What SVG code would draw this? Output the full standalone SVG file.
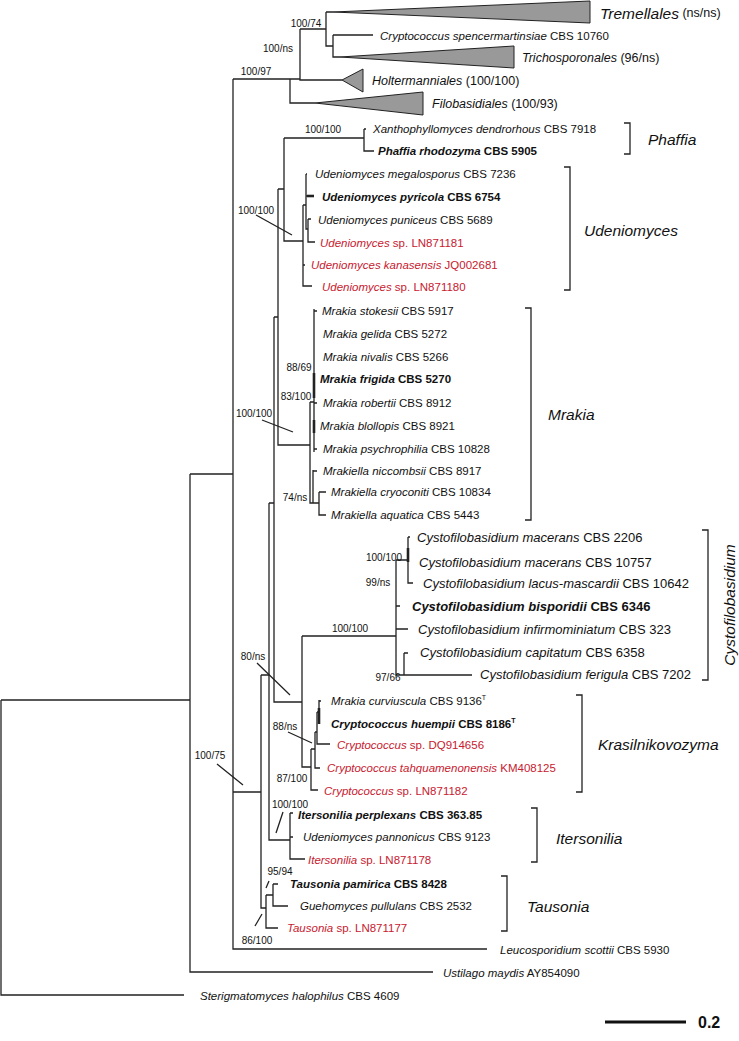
<svg xmlns="http://www.w3.org/2000/svg" width="739" height="1041" viewBox="0 0 739 1041">
<style>
text{font-family:"Liberation Sans",Arial,sans-serif;dominant-baseline:central;fill:#111}
.l{font-size:11.5px}
.c{font-size:13px}
.s{font-size:10px}
.g{font-size:12.5px}
.k{font-size:15.5px;font-style:italic}
.i{font-style:italic}
.b{font-weight:bold}
.r{fill:#c8202f}
.r tspan{fill:#c8202f}
.ln{fill:none;stroke:#222;stroke-width:1.3}
.th{fill:none;stroke:#222;stroke-width:2.6}
.tri{fill:#999;stroke:#222;stroke-width:1}
.br{fill:none;stroke:#222;stroke-width:1.3}
</style>
<rect width="739" height="1041" fill="#fff"/>
<g id="connectors">
<path class="ln" d="M1,700V995H184M1,700H190M190,474V972H433M190,474H233M233,79V949H487M233,79H290M233,792H261"/>
<path class="ln" d="M290,79V103H315M290,79H300M300,29V80H342M300,29H326M326,12V46H333M326,12H333M333,35V57H340M333,35H373"/>
<path class="ln" d="M261,675V908H266M261,675H269M269,503V840H290M269,503H274M274,317V702H302M274,317H278M278,189V445H310M278,189H284M284,138V241H303M284,138H364M364,129V151H374M364,129H366"/>
<path class="ln" d="M303,205V286H312M303,205H306M303,265H305M306,174V229H308M306,174H307M306,196H314M308,219V242H315M308,219H311"/>
<path class="th" d="M307,196H314"/>
<path class="ln" d="M310,402V503H313M310,402H314M314,309V452M314,311H317M314,403H317M314,449H317M313,470V503H319M313,471H317M319,492V515H326M319,492H326"/>
<path class="th" d="M314,373V398M314,420V433"/>
<path class="ln" d="M302,636V767H311M302,636H396M396,560V675H404M396,560H408M408,537V583H413M408,537H410M396,606H400M396,629H408M404,653V675H472M404,653H408"/>
<path class="th" d="M408,548V562"/>
<path class="ln" d="M311,749V790H318M311,749H315M315,732V768H320M315,732H317M317,712V744H330M317,712H319M319,700V724M319,701H321"/>
<path class="th" d="M319,708V724"/>
<path class="ln" d="M290,813V859H305M290,813H293M290,837H293M266,895V928H278M266,895H273M273,884V906H288M273,884H278"/>
<path class="ln" d="M256,215L292,235M262,420L293,432M257,663L290,695M288,732L312,743M217,764L243,785M283,812L276,833M266,888L269,881M255,926L262,914"/>
</g>
<g id="collapsed">
<polygon class="tri" points="333,12 590,1 590,23"/>
<polygon class="tri" points="340,57 514,46 514,68"/>
<polygon class="tri" points="342,80 363,69 363,92"/>
<polygon class="tri" points="315,103 423,92 423,115"/>
</g>
<g id="brackets">
<path class="br" d="M624,123H630V154H624"/>
<path class="br" d="M564,167H570V290H564"/>
<path class="br" d="M525,308H531V520H525"/>
<path class="br" d="M702,530H708V680H702"/>
<path class="br" d="M576,695H582V792H576"/>
<path class="br" d="M531,808H537V862H531"/>
<path class="br" d="M501,876H507V931H501"/>
</g>
<g id="scale">
<path d="M605,1022H686" stroke="#111" stroke-width="3"/>
<text x="698" y="1022" class="b" font-size="16">0.2</text>
</g>
<g id="supports" class="s">
<text class="s" x="306" y="23" text-anchor="middle">100/74</text>
<text class="s" x="278" y="48" text-anchor="middle">100/ns</text>
<text class="s" x="256" y="71" text-anchor="middle">100/97</text>
<text class="s" x="323" y="129" text-anchor="middle">100/100</text>
<text class="s" x="256" y="210" text-anchor="middle">100/100</text>
<text class="s" x="299" y="367" text-anchor="middle">88/69</text>
<text class="s" x="296" y="396" text-anchor="middle">83/100</text>
<text class="s" x="254" y="413" text-anchor="middle">100/100</text>
<text class="s" x="295" y="497" text-anchor="middle">74/ns</text>
<text class="s" x="384" y="557" text-anchor="middle">100/100</text>
<text class="s" x="378" y="582" text-anchor="middle">99/ns</text>
<text class="s" x="350" y="628" text-anchor="middle">100/100</text>
<text class="s" x="388" y="677" text-anchor="middle">97/66</text>
<text class="s" x="253" y="656" text-anchor="middle">80/ns</text>
<text class="s" x="285" y="726" text-anchor="middle">88/ns</text>
<text class="s" x="210" y="755" text-anchor="middle">100/75</text>
<text class="s" x="292" y="778" text-anchor="middle">87/100</text>
<text class="s" x="290" y="804" text-anchor="middle">100/100</text>
<text class="s" x="280" y="871" text-anchor="middle">95/94</text>
<text class="s" x="257" y="940" text-anchor="middle">86/100</text>
</g>
<g id="n-tremellales"><text x="600" y="13"><tspan class="k">Tremellales</tspan><tspan class="g"> (ns/ns)</tspan></text></g>
<g id="n-spencermartinsiae"><text class="l" x="380" y="36"><tspan class="i">Cryptococcus spencermartinsiae</tspan> CBS 10760</text></g>
<g id="n-trichosporonales"><text class="g" x="522" y="58"><tspan class="i">Trichosporonales</tspan> (96/ns)</text></g>
<g id="n-holtermanniales"><text class="g" x="372" y="81"><tspan class="i">Holtermanniales</tspan> (100/100)</text></g>
<g id="n-filobasidiales"><text class="g" x="432" y="104"><tspan class="i">Filobasidiales</tspan> (100/93)</text></g>
<g id="n-xantho"><text class="l" x="373" y="129"><tspan class="i">Xanthophyllomyces dendrorhous</tspan> CBS 7918</text></g>
<g id="n-phaffia"><text class="l b" x="378" y="151"><tspan class="i">Phaffia rhodozyma</tspan> CBS 5905</text></g>
<g id="n-ude1"><text class="l" x="315" y="174"><tspan class="i">Udeniomyces megalosporus</tspan> CBS 7236</text></g>
<g id="n-ude2"><text class="l b" x="322" y="197"><tspan class="i">Udeniomyces pyricola</tspan> CBS 6754</text></g>
<g id="n-ude3"><text class="l" x="318" y="220"><tspan class="i">Udeniomyces puniceus</tspan> CBS 5689</text></g>
<g id="n-ude4"><text class="l r" x="320" y="243"><tspan class="i">Udeniomyces</tspan> sp. LN871181</text></g>
<g id="n-ude5"><text class="l r" x="311" y="265"><tspan class="i">Udeniomyces kanasensis</tspan> JQ002681</text></g>
<g id="n-ude6"><text class="l r" x="322" y="287"><tspan class="i">Udeniomyces</tspan> sp. LN871180</text></g>
<g id="n-mr1"><text class="l" x="322" y="311"><tspan class="i">Mrakia stokesii</tspan> CBS 5917</text></g>
<g id="n-mr2"><text class="l" x="323" y="334"><tspan class="i">Mrakia gelida</tspan> CBS 5272</text></g>
<g id="n-mr3"><text class="l" x="323" y="357"><tspan class="i">Mrakia nivalis</tspan> CBS 5266</text></g>
<g id="n-mr4"><text class="l b" x="320" y="379"><tspan class="i">Mrakia frigida</tspan> CBS 5270</text></g>
<g id="n-mr5"><text class="l" x="323" y="403"><tspan class="i">Mrakia robertii</tspan> CBS 8912</text></g>
<g id="n-mr6"><text class="l" x="320" y="426"><tspan class="i">Mrakia blollopis</tspan> CBS 8921</text></g>
<g id="n-mr7"><text class="l" x="323" y="449"><tspan class="i">Mrakia psychrophilia</tspan> CBS 10828</text></g>
<g id="n-mr8"><text class="l" x="323" y="471"><tspan class="i">Mrakiella niccombsii</tspan> CBS 8917</text></g>
<g id="n-mr9"><text class="l" x="331" y="492"><tspan class="i">Mrakiella cryoconiti</tspan> CBS 10834</text></g>
<g id="n-mr10"><text class="l" x="331" y="515"><tspan class="i">Mrakiella aquatica</tspan> CBS 5443</text></g>
<g id="n-cy1"><text class="c" x="417" y="537"><tspan class="i">Cystofilobasidium macerans</tspan> CBS 2206</text></g>
<g id="n-cy2"><text class="c" x="419" y="562"><tspan class="i">Cystofilobasidium macerans</tspan> CBS 10757</text></g>
<g id="n-cy3"><text class="c" x="423" y="583"><tspan class="i">Cystofilobasidium lacus-mascardii</tspan> CBS 10642</text></g>
<g id="n-cy4"><text class="c b" x="412" y="606"><tspan class="i">Cystofilobasidium bisporidii</tspan> CBS 6346</text></g>
<g id="n-cy5"><text class="c" x="418" y="629"><tspan class="i">Cystofilobasidium infirmominiatum</tspan> CBS 323</text></g>
<g id="n-cy6"><text class="c" x="420" y="652"><tspan class="i">Cystofilobasidium capitatum</tspan> CBS 6358</text></g>
<g id="n-cy7"><text class="c" x="480" y="674"><tspan class="i">Cystofilobasidium ferigula</tspan> CBS 7202</text></g>
<g id="n-kr1"><text class="l" x="331" y="701"><tspan class="i">Mrakia curviuscula</tspan> CBS 9136<tspan font-size="7" dy="-4">T</tspan></text></g>
<g id="n-kr2"><text class="l b" x="331" y="724"><tspan class="i">Cryptococcus huempii</tspan> CBS 8186<tspan font-size="7" dy="-4">T</tspan></text></g>
<g id="n-kr3"><text class="l r" x="337" y="745"><tspan class="i">Cryptococcus</tspan> sp. DQ914656</text></g>
<g id="n-kr4"><text class="l r" x="327" y="768"><tspan class="i">Cryptococcus tahquamenonensis</tspan> KM408125</text></g>
<g id="n-kr5"><text class="l r" x="324" y="791"><tspan class="i">Cryptococcus</tspan> sp. LN871182</text></g>
<g id="n-it1"><text class="l b" x="298" y="815"><tspan class="i">Itersonilia perplexans</tspan> CBS 363.85</text></g>
<g id="n-it2"><text class="l" x="303" y="837"><tspan class="i">Udeniomyces pannonicus</tspan> CBS 9123</text></g>
<g id="n-it3"><text class="l r" x="308" y="860"><tspan class="i">Itersonilia</tspan> sp. LN871178</text></g>
<g id="n-ta1"><text class="l b" x="290" y="884"><tspan class="i">Tausonia pamirica</tspan> CBS 8428</text></g>
<g id="n-ta2"><text class="l" x="300" y="906"><tspan class="i">Guehomyces pullulans</tspan> CBS 2532</text></g>
<g id="n-ta3"><text class="l r" x="287" y="928"><tspan class="i">Tausonia</tspan> sp. LN871177</text></g>
<g id="n-leuco"><text class="l" x="500" y="950"><tspan class="i">Leucosporidium scottii</tspan> CBS 5930</text></g>
<g id="n-ustilago"><text class="l" x="443" y="973"><tspan class="i">Ustilago maydis</tspan> AY854090</text></g>
<g id="n-sterig"><text class="l" x="200" y="996"><tspan class="i">Sterigmatomyces halophilus</tspan> CBS 4609</text></g>
<g id="clade-labels">
<text class="k" x="648" y="139">Phaffia</text>
<text class="k" x="584" y="230">Udeniomyces</text>
<text class="k" x="548" y="414">Mrakia</text>
<text class="k" text-anchor="middle" transform="translate(729,605) rotate(-90)">Cystofilobasidium</text>
<text class="k" x="598" y="744">Krasilnikovozyma</text>
<text class="k" x="556" y="838">Itersonilia</text>
<text class="k" x="527" y="906">Tausonia</text>
</g>
</svg>
